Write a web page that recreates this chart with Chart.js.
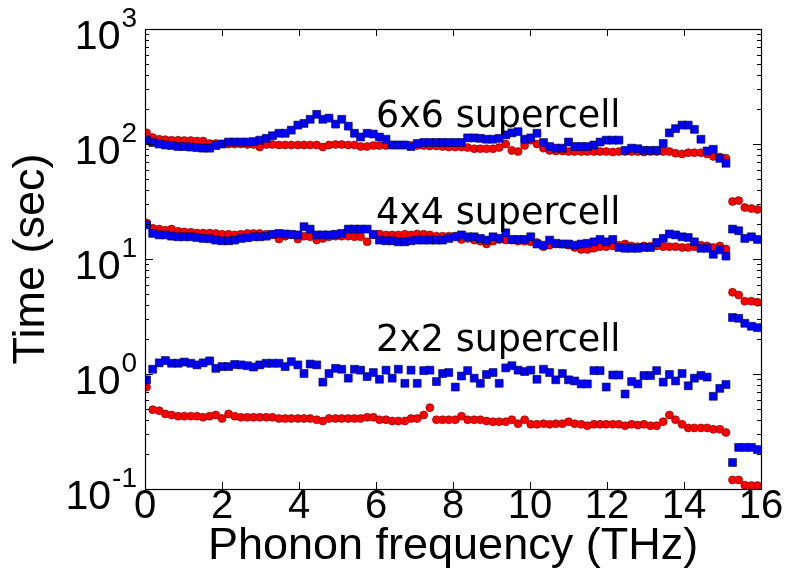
<!DOCTYPE html>
<html>
<head>
<meta charset="utf-8">
<script src="https://cdn.jsdelivr.net/npm/chart.js@4.4.1/dist/chart.umd.min.js"></script>
<style>
    html, body { margin: 0; padding: 0; background: #fff; }
    #wrap { width: 785px; height: 575px; }
</style>
</head>
<body>
<div id="wrap"><canvas id="timingChart" width="785" height="575"></canvas></div>
<script>
// ===== DATA =====
var freq = [0.04, 0.20, 0.37, 0.53, 0.69, 0.86, 1.02, 1.19, 1.35, 1.51,
    1.68, 1.84, 2.00, 2.17, 2.33, 2.49, 2.66, 2.82, 2.98, 3.15,
    3.31, 3.48, 3.64, 3.80, 3.97, 4.13, 4.29, 4.46, 4.62, 4.78,
    4.95, 5.11, 5.28, 5.44, 5.60, 5.77, 5.93, 6.09, 6.26, 6.42,
    6.58, 6.75, 6.91, 7.07, 7.24, 7.40, 7.57, 7.73, 7.89, 8.06,
    8.22, 8.38, 8.55, 8.71, 8.87, 9.04, 9.20, 9.37, 9.53, 9.69,
    9.86, 10.02, 10.18, 10.35, 10.51, 10.67, 10.84, 11.00, 11.16, 11.33,
    11.49, 11.66, 11.82, 11.98, 12.15, 12.31, 12.47, 12.64, 12.80, 12.96,
    13.13, 13.29, 13.46, 13.62, 13.78, 13.95, 14.11, 14.27, 14.44, 14.60,
    14.76, 14.93, 15.09, 15.26, 15.42, 15.58, 15.75, 15.91];

// 2x2 supercell
var red2 = [0.77, 0.49, 0.48, 0.45, 0.44, 0.43, 0.43, 0.43, 0.43, 0.42,
    0.43, 0.44, 0.41, 0.45, 0.43, 0.42, 0.42, 0.42, 0.42, 0.42,
    0.42, 0.41, 0.41, 0.41, 0.41, 0.41, 0.41, 0.40, 0.39, 0.41,
    0.41, 0.41, 0.41, 0.41, 0.41, 0.42, 0.42, 0.40, 0.40, 0.39,
    0.39, 0.39, 0.41, 0.41, 0.44, 0.51, 0.40, 0.40, 0.40, 0.40,
    0.43, 0.40, 0.40, 0.40, 0.39, 0.385, 0.385, 0.385, 0.40, 0.37,
    0.40, 0.365, 0.365, 0.37, 0.365, 0.37, 0.37, 0.385, 0.37, 0.365,
    0.355, 0.365, 0.365, 0.365, 0.365, 0.365, 0.355, 0.365, 0.36, 0.365,
    0.355, 0.355, 0.385, 0.44, 0.40, 0.365, 0.34, 0.34, 0.34, 0.34,
    0.33, 0.33, 0.31, 0.12, 0.12, 0.108, 0.107, 0.107];
var blue2 = [0.89, 1.10, 1.25, 1.31, 1.24, 1.24, 1.27, 1.24, 1.20, 1.25,
    1.30, 1.12, 1.16, 1.16, 1.21, 1.20, 1.18, 1.15, 1.20, 1.24,
    1.24, 1.24, 1.16, 1.28, 1.20, 1.01, 1.22, 1.20, 0.85, 1.01,
    1.12, 1.10, 0.92, 1.10, 1.08, 0.95, 1.03, 0.90, 1.08, 0.92,
    1.10, 0.83, 1.08, 0.83, 1.07, 1.08, 0.86, 1.01, 1.03, 0.77,
    0.96, 1.07, 0.92, 0.83, 0.99, 1.03, 0.83, 1.13, 1.18, 1.08,
    1.05, 1.08, 0.90, 1.10, 1.03, 0.89, 1.01, 0.89, 0.87, 0.82,
    0.82, 1.07, 1.07, 0.77, 0.98, 0.98, 0.67, 0.86, 0.82, 0.97,
    0.97, 1.07, 0.85, 0.99, 0.87, 1.01, 0.79, 0.92, 0.97, 0.94,
    0.64, 0.75, 0.81, 0.17, 0.23, 0.23, 0.23, 0.22];

// 4x4 supercell
var red4 = [20.6, 18.5, 18.2, 17.8, 18.2, 17.4, 17.2, 17.1, 16.8, 16.8,
    16.8, 16.7, 16.4, 16.4, 16.2, 16.4, 16.7, 16.7, 16.7, 16.4,
    16.2, 14.9, 15.8, 16.2, 14.9, 15.8, 15.6, 14.6, 15.1, 15.6,
    15.8, 15.8, 15.8, 15.6, 15.6, 14.1, 16.2, 16.5, 16.2, 16.2,
    16.2, 16.4, 16.2, 16.5, 16.4, 16.2, 15.8, 15.8, 15.8, 15.8,
    14.8, 15.1, 14.6, 14.3, 13.5, 14.3, 14.8, 14.6, 14.6, 14.3,
    14.3, 14.1, 13.9, 12.8, 13.2, 13.5, 13.5, 13.2, 12.6, 12.1,
    12.1, 12.4, 12.8, 12.8, 13.0, 13.2, 13.5, 13.0, 12.8, 13.0,
    12.9, 13.0, 12.8, 12.8, 12.8, 12.6, 12.6, 12.8, 13.2, 13.0,
    12.6, 13.0, 12.2, 5.13, 4.86, 4.3, 4.3, 4.2];
var blue4 = [19.8, 16.7, 16.2, 16.2, 15.8, 15.6, 15.6, 15.6, 15.4, 15.1,
    15.0, 14.6, 14.4, 14.4, 14.6, 15.1, 15.3, 15.6, 15.6, 15.8,
    16.4, 16.7, 16.5, 16.4, 16.2, 19.1, 18.2, 16.2, 16.2, 16.2,
    16.4, 16.7, 18.2, 18.2, 18.2, 18.2, 16.4, 14.6, 14.4, 14.4,
    14.1, 14.1, 14.4, 14.6, 14.6, 14.6, 14.6, 14.6, 15.1, 15.6,
    16.2, 15.6, 15.6, 15.1, 14.6, 15.6, 15.1, 16.9, 14.8, 14.8,
    14.8, 15.6, 13.5, 13.2, 14.6, 13.7, 13.5, 13.5, 13.2, 13.5,
    13.7, 14.1, 14.8, 14.1, 14.8, 12.6, 12.4, 12.4, 12.4, 12.6,
    12.6, 13.9, 15.1, 16.5, 16.2, 15.6, 15.4, 14.1, 12.4, 12.4,
    11.0, 12.0, 10.6, 3.1, 3.05, 2.76, 2.6, 2.53];

// 6x6 supercell
var red6 = [125, 114, 110, 109, 108, 108, 107, 107, 106, 106,
    101, 101, 100, 100, 100, 100, 99, 99, 94, 99,
    99, 98, 98, 98, 98, 98, 98, 98, 94, 98,
    99, 99, 98, 98, 95, 95, 97, 97, 97, 98,
    98, 98, 97, 97, 97, 96, 96, 95, 94, 94,
    94, 93, 91, 91, 91, 91, 93, 100, 88, 86,
    97, 108, 100, 92, 88, 87, 87, 86, 86, 86,
    86, 86, 86, 86, 85, 86, 86, 86, 86, 85,
    86, 86, 86, 86, 83, 82, 84, 84, 84, 82,
    78, 77, 75, 31.6, 32.2, 28, 27.5, 27];
var blue6 = [108, 103, 100, 98, 97, 95, 95, 94, 93, 92,
    92, 97, 100, 104, 104, 104, 104, 105, 108, 112,
    118, 124, 124, 132, 146, 151, 164, 181, 164, 168,
    149, 164, 143, 124, 115, 124, 122, 115, 110, 98,
    98, 98, 95, 101, 103, 103, 103, 103, 103, 103,
    103, 113, 113, 112, 110, 110, 112, 120, 125, 128,
    110, 113, 124, 103, 95, 92, 92, 104, 95, 95,
    95, 98, 104, 108, 108, 108, 88, 92, 91, 88,
    88, 88, 101, 125, 136, 146, 146, 134, 110, 87,
    90, 75, 68, 18.2, 17.6, 15.1, 15.6, 14.8];

var xTicks = [0, 2, 4, 6, 8, 10, 12, 14, 16];
var yTicks = [0.1, 1, 10, 100, 1000];
var yTickBase = ['10', '10', '10', '10', '10'];
var yTickExp = ['-1', '0', '1', '2', '3'];

var noteText = ['6x6 supercell', '4x4 supercell', '2x2 supercell'];
var noteX = [6, 6, 6];
var noteY = [140, 20, 1.6];

var AXIS_FONT = 'Liberation Sans';
var NOTE_FONT = 'DejaVu Sans';

function toPoints(ys) {
    var pts = [];
    for (var i = 0; i < ys.length; i++) {
        pts.push({ x: freq[i], y: ys[i] });
    }
    return pts;
}

function redSet(ys) {
    return {
        data: toPoints(ys),
        pointStyle: 'circle',
        pointRadius: 4,
        backgroundColor: '#ff0000',
        borderColor: '#6a0000',
        borderWidth: 0.6,
        order: 1
    };
}

function blueSet(ys) {
    return {
        data: toPoints(ys),
        pointStyle: 'rect',
        pointRadius: 5.6,
        backgroundColor: '#0000ff',
        borderColor: '#000033',
        borderWidth: 0.6,
        order: 0
    };
}

// ===== FRAME, INWARD TICKS, Y LABELS AND NOTES =====
var framePlugin = {
    id: 'frame',
    afterDatasetsDraw: function(chart) {
        var ctx = chart.ctx;
        var a = chart.chartArea;
        var xs = chart.scales.x;
        var ys = chart.scales.y;
        ctx.save();
        ctx.strokeStyle = '#000';
        ctx.lineWidth = 1;

        // x ticks, bottom and top
        xTicks.forEach(function(v) {
            var px = Math.round(xs.getPixelForValue(v)) + 0.5;
            ctx.beginPath();
            ctx.moveTo(px, a.bottom); ctx.lineTo(px, a.bottom - 7);
            ctx.moveTo(px, a.top); ctx.lineTo(px, a.top + 7);
            ctx.stroke();
        });

        // y ticks, major and minor, left and right
        for (var k = -1; k <= 3; k++) {
            for (var m = 1; m <= 9; m++) {
                var v = m * Math.pow(10, k);
                if (v < 0.1 || v > 1000) continue;
                var len = (m === 1) ? 8 : 4;
                var py = Math.round(ys.getPixelForValue(v)) + 0.5;
                ctx.beginPath();
                ctx.moveTo(a.left, py); ctx.lineTo(a.left + len, py);
                ctx.moveTo(a.right, py); ctx.lineTo(a.right - len, py);
                ctx.stroke();
            }
        }

        // box
        ctx.lineWidth = 1.2;
        ctx.strokeRect(a.left + 0.5, a.top + 0.5, a.right - a.left, a.bottom - a.top);

        // y tick labels: 10 with a raised exponent
        ctx.fillStyle = '#000';
        ctx.textBaseline = 'alphabetic';
        ctx.textAlign = 'right';
        var labelRight = a.left - 8;
        for (var j = 0; j < yTicks.length; j++) {
            var ty = ys.getPixelForValue(yTicks[j]);
            ctx.font = '28px "' + AXIS_FONT + '"';
            var ew = ctx.measureText(yTickExp[j]).width;
            ctx.fillText(yTickExp[j], labelRight, ty - 2);
            ctx.font = '41px "' + AXIS_FONT + '"';
            ctx.fillText(yTickBase[j], labelRight - ew - 1, ty + 20);
        }

        // annotations
        ctx.font = '36.5px "' + NOTE_FONT + '"';
        ctx.textAlign = 'left';
        for (var i = 0; i < noteText.length; i++) {
            ctx.fillText(noteText[i], xs.getPixelForValue(noteX[i]), ys.getPixelForValue(noteY[i]));
        }
        ctx.restore();
    }
};

document.addEventListener('DOMContentLoaded', function() {
    var ctx = document.getElementById('timingChart').getContext('2d');
    new Chart(ctx, {
        type: 'scatter',
        data: {
            datasets: [redSet(red2), blueSet(blue2), redSet(red4), blueSet(blue4), redSet(red6), blueSet(blue6)]
        },
        options: {
            responsive: false,
            animation: false,
            layout: { padding: { left: 0, right: 24, top: 29, bottom: 0 } },
            plugins: {
                legend: { display: false },
                tooltip: { enabled: false }
            },
            scales: {
                x: {
                    type: 'linear',
                    min: 0,
                    max: 16,
                    afterBuildTicks: function(s) {
                        s.ticks = xTicks.map(function(v) { return { value: v }; });
                    },
                    afterFit: function(s) { s.height = 86; },
                    grid: { display: false, drawTicks: false },
                    border: { display: false },
                    ticks: {
                        color: '#000',
                        padding: -6,
                        maxRotation: 0,
                        autoSkip: false,
                        font: { family: AXIS_FONT, size: 40 }
                    },
                    title: {
                        display: true,
                        text: 'Phonon frequency (THz)',
                        color: '#000',
                        padding: { top: 0, bottom: 1 },
                        font: { family: AXIS_FONT, size: 45, lineHeight: 1.2 }
                    }
                },
                y: {
                    type: 'logarithmic',
                    min: 0.1,
                    max: 1000,
                    afterBuildTicks: function(s) {
                        s.ticks = yTicks.map(function(v) { return { value: v }; });
                    },
                    afterFit: function(s) { s.width = 145; },
                    grid: { display: false, drawTicks: false },
                    border: { display: false },
                    ticks: { display: false },
                    title: {
                        display: true,
                        text: 'Time (sec)',
                        color: '#000',
                        padding: { top: 5, bottom: 0 },
                        font: { family: AXIS_FONT, size: 45, lineHeight: 1.2 }
                    }
                }
            }
        },
        plugins: [framePlugin]
    });
});
</script>
</body>
</html>
